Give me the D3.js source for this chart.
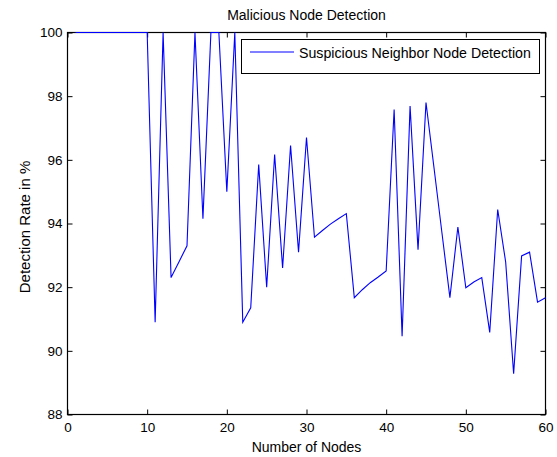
<!DOCTYPE html>
<html lang="en">
<head>
    <meta charset="UTF-8">
    <title>Malicious Node Detection</title>
    <script src="https://cdn.jsdelivr.net/npm/d3@7"></script>
    <style>
        body{ margin:0; background:#fff; }
        text{ font-family:"Liberation Sans", Arial, Helvetica, sans-serif; fill:#000; }
        .tick text{ font-size:13.5px; }
        .tick line{ stroke:#000; }
        .domain{ display:none; }
    </style>
</head>
<body>
<svg id="main" width="557" height="457"></svg>
<script>
    // data
    let nodes = [1,2,3,4,5,6,7,8,9,10,11,12,13,14,15,16,17,18,19,20,
                 21,22,23,24,25,26,27,28,29,30,31,32,33,34,35,36,37,38,39,40,
                 41,42,43,44,45,46,47,48,49,50,51,52,53,54,55,56,57,58,59,60];
    let detectionRate = [100,100,100,100,100,100,100,100,100,100,
                         90.9,100,92.3,92.8,93.3,100,94.15,100,100,95.0,
                         100,90.9,91.35,95.85,92.0,96.17,92.6,96.45,93.1,96.7,
                         93.57,93.78,93.98,94.15,94.31,91.67,91.92,92.14,92.32,92.51,
                         97.58,90.46,97.69,93.18,97.8,95.76,93.71,91.67,93.89,91.98,
                         92.16,92.3,90.58,94.44,92.79,89.28,92.98,93.1,91.53,91.67];
    let xTicks = [0,10,20,30,40,50,60];
    let yTicks = [88,90,92,94,96,98,100];
    let seriesName = 'Suspicious Neighbor Node Detection';

    let svg = d3.select('svg#main');
    let box = {left:67.5, right:545.5, top:32.5, bottom:414.5};

    let xScale = d3.scaleLinear().domain([0,60]).range([box.left, box.right]);
    let yScale = d3.scaleLinear().domain([88,100]).range([box.bottom, box.top]);

    // axes with inward ticks on all four sides
    svg.append('g')
        .attr('transform', 'translate(0,' + box.bottom + ')')
        .call(d3.axisBottom(xScale).tickValues(xTicks).tickSizeInner(-5).tickSizeOuter(0).tickPadding(8));
    svg.append('g')
        .attr('transform', 'translate(0,' + box.top + ')')
        .call(d3.axisTop(xScale).tickValues(xTicks).tickSizeInner(-5).tickSizeOuter(0).tickFormat(''));
    svg.append('g')
        .attr('transform', 'translate(' + box.left + ',0)')
        .call(d3.axisLeft(yScale).tickValues(yTicks).tickSizeInner(-5).tickSizeOuter(0).tickPadding(5));
    svg.append('g')
        .attr('transform', 'translate(' + box.right + ',0)')
        .call(d3.axisRight(yScale).tickValues(yTicks).tickSizeInner(-5).tickSizeOuter(0).tickFormat(''));

    // axes box
    svg.append('rect')
        .attr('x', box.left).attr('y', box.top)
        .attr('width', box.right - box.left).attr('height', box.bottom - box.top)
        .attr('fill', 'none').attr('stroke', '#000').attr('stroke-width', 1.2);

    // the line, drawn over the box like matlab does
    let line = d3.line()
        .x(function(d, i){ return xScale(nodes[i]); })
        .y(function(d){ return yScale(d); });
    svg.append('path')
        .datum(detectionRate)
        .attr('d', line)
        .attr('fill', 'none')
        .attr('stroke', '#0000ff')
        .attr('stroke-width', 1.1);

    // legend
    let legend = svg.append('g');
    legend.append('rect')
        .attr('x', 241.5).attr('y', 39.5).attr('width', 298).attr('height', 34)
        .attr('fill', '#fff').attr('stroke', '#000').attr('stroke-width', 1);
    legend.append('line')
        .attr('x1', 250).attr('x2', 294).attr('y1', 52).attr('y2', 52)
        .attr('stroke', '#0000ff').attr('stroke-width', 1.1);
    legend.append('text')
        .attr('x', 299).attr('y', 58)
        .style('font-size', '14.2px')
        .text(seriesName);

    // titles
    svg.append('text')
        .attr('x', (box.left + box.right) / 2).attr('y', 20)
        .attr('text-anchor', 'middle').style('font-size', '14px')
        .text('Malicious Node Detection');
    svg.append('text')
        .attr('x', (box.left + box.right) / 2).attr('y', 452)
        .attr('text-anchor', 'middle').style('font-size', '14px')
        .text('Number of Nodes');
    svg.append('text')
        .attr('transform', 'translate(30,227) rotate(-90)')
        .attr('text-anchor', 'middle').style('font-size', '15px')
        .text('Detection Rate in %');
</script>
</body>
</html>
